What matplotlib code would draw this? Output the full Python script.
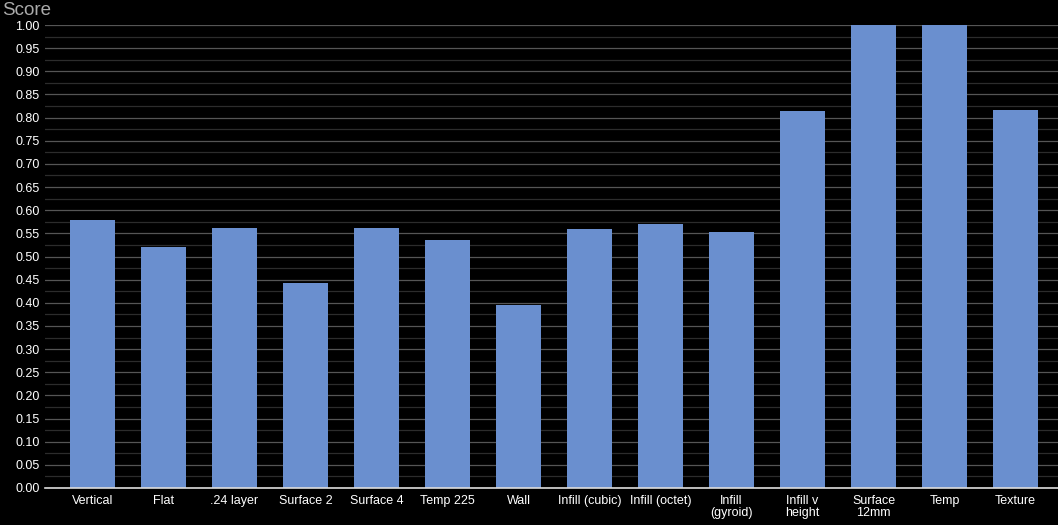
import numpy as np
import matplotlib
matplotlib.use("Agg")
import matplotlib.pyplot as plt
from matplotlib.ticker import MultipleLocator

# ─── Data ─────────────────────────────────────────────────────────────────────
categories = ['Vertical', 'Flat', '.24 layer', 'Surface 2', 'Surface 4', 'Temp 225',
              'Wall', 'Infill (cubic)', 'Infill (octet)', 'Infill\n(gyroid)',
              'Infill v\nheight', 'Surface\n12mm', 'Temp', 'Texture']
scores = [0.579, 0.520, 0.561, 0.443, 0.561, 0.536, 0.395,
          0.559, 0.570, 0.553, 0.814, 1.000, 1.000, 0.816]
yticks = np.arange(0, 1.0001, 0.05)

plt.rcParams['font.family'] = ['Liberation Sans', 'DejaVu Sans']

fig = plt.figure(figsize=(10.58, 5.25), dpi=100, facecolor='black')
ax = fig.add_axes([45 / 1058, 37 / 525, 1013 / 1058, 463 / 525], facecolor='black')

x = np.arange(len(categories))
ax.bar(x, scores, width=0.634, color='#6a8fcf', zorder=3)

ax.set_xlim(-0.669, 13.599)
ax.set_ylim(0, 1.0)
ax.set_yticks(yticks)
ax.set_yticklabels([f'{v:.2f}' for v in yticks])
ax.yaxis.set_minor_locator(MultipleLocator(0.025))
ax.grid(True, axis='y', which='major', color='#555555', linewidth=0.9, zorder=0)
ax.grid(True, axis='y', which='minor', color='#2c2c2c', linewidth=0.9, zorder=0)

ax.set_xticks(x)
ax.set_xticklabels(categories, fontsize=9, color='white', linespacing=1.0)
ax.tick_params(axis='y', labelsize=9, labelcolor='white', length=0, pad=4)
ax.tick_params(axis='x', length=0, pad=5)
ax.tick_params(which='minor', length=0)

for side in ['top', 'right', 'left']:
    ax.spines[side].set_visible(False)
ax.spines['bottom'].set_color('#dddddd')
ax.spines['bottom'].set_linewidth(1.2)
ax.spines['bottom'].set_zorder(4)

fig.text(2 / 1058, 1 - 2 / 525, 'Score', fontsize=13.5, color='#aaaaaa',
         ha='left', va='top')

plt.savefig('out.png', dpi=100, facecolor='black')
